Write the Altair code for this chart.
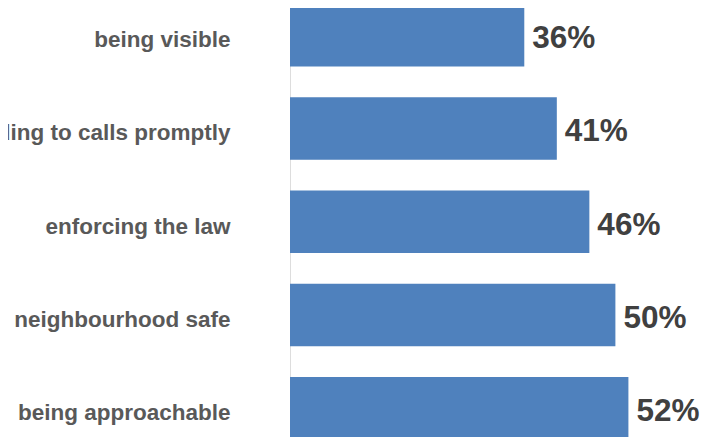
import altair as alt
import pandas as pd

categories = [
    "being visible",
    "responding to calls promptly",
    "enforcing the law",
    "keeping the neighbourhood safe",
    "being approachable",
]
values = [36, 41, 46, 50, 52]
labels = ["36%", "41%", "46%", "50%", "52%"]

df = pd.DataFrame({"category": categories, "value": values, "label": labels})

y_enc = alt.Y(
    "category:N",
    sort=categories,
    scale=alt.Scale(paddingInner=0.33, paddingOuter=0),
    axis=alt.Axis(
        title=None,
        ticks=False,
        domain=False,
        grid=False,
        labelAlign="right",
        labelBaseline="middle",
        labelPadding=60,
        labelOffset=5,
        labelFont="Liberation Sans",
        labelFontWeight="bold",
        labelFontSize=22.5,
        labelColor="#595959",
        labelLimit=0,
    ),
)
x_enc = alt.X(
    "value:Q",
    scale=alt.Scale(domain=[0, 63], nice=False, zero=True),
    axis=None,
)

bars = alt.Chart(df).mark_bar(color="#4F81BD").encode(x=x_enc, y=y_enc)
texts = alt.Chart(df).mark_text(
    align="left",
    baseline="middle",
    dx=8,
    dy=4,
    font="Liberation Sans",
    fontWeight="bold",
    fontSize=31.5,
    color="#404040",
).encode(x=x_enc, y=alt.Y("category:N", sort=categories), text="label:N")

chart = (
    alt.layer(bars, texts)
    .properties(
        width=410,
        height=435.5,
        autosize=alt.AutoSizeParams(type="none"),
        padding={"left": 282, "top": -4, "right": 0, "bottom": -2.5},
    )
    .configure_view(stroke=None)
    .configure(background="white")
)

chart.save("out.html", embed_options={"renderer": "svg", "actions": False})
